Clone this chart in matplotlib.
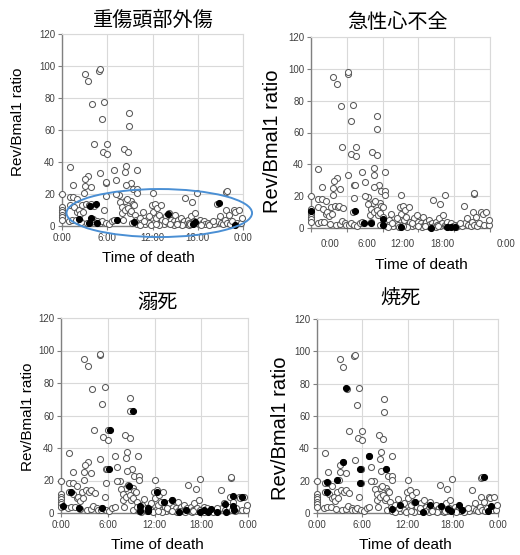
import matplotlib
matplotlib.use("Agg")
import matplotlib.pyplot as plt
from matplotlib.patches import Ellipse

plt.rcParams['font.family'] = ['Liberation Sans', 'Noto Sans CJK JP']

# panel titles
titles = ['重傷頭部外傷', '急性心不全', '溺死', '焼死']

# common background samples (open circles): hour of death, Rev/Bmal1 ratio
open_hour = [3.0, 3.5, 4.95, 5.0, 4.0, 5.6, 5.3, 8.9, 8.9, 4.2, 6.0, 5.4, 6.0, 8.2, 8.8,
             1.0, 8.5, 6.9, 9.9, 3.5, 3.1, 7.2, 8.4, 5.0, 5.8, 5.9, 9.1, 8.5, 3.0, 3.85,
             1.5, 9.4, 9.95, 2.9, 7.6, 12.0, 17.9, 21.8, 21.85, 9.95, 7.2,
             0, 0, 0, 0, 0, 0, 0,
             1.0, 1.5, 2.0, 5.8, 8.3, 9.2, 9.4, 16.3, 17.3,
             1.0, 0.9, 1.3, 1.6, 1.8, 2.0, 2.2, 2.4, 2.5, 2.7, 2.8, 3.2, 3.3, 3.6, 3.8,
             3.9, 4.1, 4.3, 4.6, 4.7, 5.1, 5.3, 5.6, 5.8, 6.2, 6.6, 6.9, 7.7, 7.9, 8.0,
             8.1, 8.4, 8.6, 8.8, 9.0, 9.2, 9.3, 9.6, 9.7, 9.8, 10.0, 10.1, 10.4, 10.5,
             10.7, 11.0, 11.3, 11.6, 11.9, 12.1, 12.2, 12.3, 12.5, 12.6, 12.8, 13.0,
             13.1, 13.3, 13.5, 13.8, 14.0, 14.2, 14.4, 14.6, 14.8, 15.0, 15.2, 15.4,
             15.6, 15.8, 16.0, 16.2, 16.5, 16.7, 16.9, 17.1, 17.3, 17.5, 17.7, 17.9,
             18.1, 18.3, 18.6, 18.8, 19.0, 19.3, 19.6, 19.9, 20.2, 20.5, 20.7, 20.9,
             21.1, 21.4, 21.6, 21.7, 21.9, 22.1, 22.3, 22.5, 22.8, 23.0, 23.2, 23.5,
             23.8, 23.9,
             10.3, 11.8, 12.9, 13.6, 14.9, 15.9, 16.8, 18.4, 19.5, 20.0, 11.5, 10.9,
             12.4, 14.3, 15.3, 17.0]
open_ratio = [95, 90.5, 97, 98, 76.5, 77.5, 67, 70.5, 62.5, 51, 51, 46.5, 45, 48, 46,
              37, 37.5, 35, 35, 31.5, 29.5, 28.6, 33.6, 33, 27, 27.3, 27, 25.7, 25.2, 24.5,
              25.5, 23, 23, 20.5, 19.6, 20.5, 20.8, 21.5, 22, 20.5, 20,
              20, 12, 10, 8.5, 7, 5.5, 4,
              18.4, 18.4, 16.7, 18.6, 15.5, 15.5, 13.8, 17.3, 15,
              13, 3, 3.5, 12, 4, 9, 10, 7.5, 2.5, 13, 9, 14, 2, 13, 14,
              2.5, 4.5, 12.5, 3, 2, 2, 3, 10, 2, 1, 3, 3.5, 15, 8, 12,
              3.5, 10, 17, 11, 8, 9.5, 2, 13, 7, 4, 1, 3, 5, 2,
              8.5, 1.5, 4, 2, 13, 9, 2, 14, 5, 11, 7, 2,
              13, 3.5, 1, 6, 2, 8, 4, 1.5, 3, 7, 2, 4,
              1, 5, 2.5, 3, 1, 4, 2, 6, 1, 3, 8, 2,
              1.5, 4, 2, 3, 1, 2, 1.5, 2, 1, 14, 3, 6,
              2, 1, 4, 10, 2, 7, 1, 3, 10, 9, 2, 10,
              2, 5,
              0.5, 0.5, 0.5, 3, 0.5, 0.5, 0.5, 0.5, 0.5, 3, 6, 3,
              1, 1, 1, 1]

# highlighted samples (filled circles) per cause of death
black_hour_1 = [2.3, 3.7, 4.5, 3.85, 3.6, 4.6, 7.3, 9.6, 14.0, 17.6, 17.4, 20.8, 23.0]
black_ratio_1 = [4.2, 12.7, 13.8, 4.8, 2.0, 1.7, 3.8, 2.7, 7.3, 2.7, 1.3, 14.2, 0.4]

black_hour_2 = [0.05, 5.9, 7.05, 8.1, 9.6, 9.6, 12.05, 16.1, 18.3, 18.8, 19.3]
black_ratio_2 = [10.5, 10.5, 3.1, 3.4, 5.4, 1.7, 0.8, 0.3, 0.5, 0.8, 0.8]

black_hour_3 = [0.3, 1.3, 2.3, 5.3, 6.1, 6.3, 9.3, 8.7, 10.2, 10.2, 11.2, 11.2, 12.3,
                13.2, 14.2, 15.1, 16.1, 17.8, 18.3, 18.9, 19.2, 20.0, 21.1, 21.2, 22.1,
                22.1, 22.2, 23.2]
black_ratio_3 = [4.1, 12.7, 3.3, 2.9, 27, 51, 62.6, 16.6, 4.1, 1.0, 2.9, 1.0, 12.9,
                 6.6, 8.0, 0.6, 1.6, 0.4, 2.0, 0.8, 2.5, 0.4, 5.7, 0.6, 10.7,
                 4.5, 2.0, 9.8]

black_hour_4 = [1.3, 1.3, 2.7, 3.4, 3.9, 5.7, 5.7, 6.9, 9.1, 9.95, 11.0, 13.0, 14.0,
                15.0, 16.4, 17.4, 17.8, 18.8, 19.2, 22.1, 22.7, 23.1]
black_ratio_4 = [19.2, 13, 20.6, 31.8, 77.3, 27.2, 18.6, 35.5, 27.4, 2.5, 5, 6.6, 0.4,
                 5, 4.1, 2.5, 1.2, 5, 1.6, 22.3, 1.0, 4.5]

black_hours = [black_hour_1, black_hour_2, black_hour_3, black_hour_4]
black_ratios = [black_ratio_1, black_ratio_2, black_ratio_3, black_ratio_4]

tick_labels = ['0:00', '6:00', '12:00', '18:00', '0:00']
# panel 2 has its labels shifted off the gridlines
shifted_label_hours = [2.5, 7.5, 12.3, 17.6, 26.2]

fig = plt.figure(figsize=(5.2, 5.55), dpi=100)
W, H = 520.0, 555.0

# (left, right, top, bottom) in pixels
boxes = [(62, 243, 34, 226), (311, 490, 37, 228), (61, 248, 318, 513), (317, 498, 319, 513)]
title_pos = [(153, 20), (397, 22), (157, 302), (400, 298)]
ylabel_pos = [(18, 122, 11), (273, 141, 14.5), (28, 417, 11), (280, 428, 14.5)]
xlabel_pos = [(148, 258), (421, 265), (157, 545), (405, 545)]

for i in range(4):
    l, r, t, b = boxes[i]
    ax = fig.add_axes([l / W, 1 - b / H, (r - l) / W, (b - t) / H])
    ax.set_xlim(0, 24)
    ax.set_ylim(0, 120)
    ax.set_yticks(range(0, 121, 20))
    if i == 1:
        ax.set_xticks([0, 4.8, 9.6, 14.4, 19.2, 24])
        ax.set_xticklabels([])
        for hx, lab in zip(shifted_label_hours, tick_labels):
            ax.text(hx, -7, lab, ha='center', va='top', fontsize=7, color='#404040',
                    clip_on=False)
    else:
        ax.set_xticks([0, 6, 12, 18, 24])
        ax.set_xticklabels(tick_labels)
    ax.grid(True, color='#d9d9d9', lw=0.8)
    ax.set_axisbelow(True)
    ax.tick_params(labelsize=7, labelcolor='#404040', color='#808080', length=3,
                   width=0.8, pad=2)
    for s in ['left', 'bottom']:
        ax.spines[s].set_color('#808080')
        ax.spines[s].set_linewidth(1)
    for s in ['top', 'right']:
        ax.spines[s].set_color('#d9d9d9')
        ax.spines[s].set_linewidth(0.8)

    ax.scatter(open_hour, open_ratio, s=19, facecolors='white', edgecolors='#5a5a5a',
               linewidths=0.75, zorder=3, clip_on=False)
    ax.scatter(black_hours[i], black_ratios[i], s=19, facecolors='black',
               edgecolors='black', linewidths=0.75, zorder=4, clip_on=False)

    if i == 0:
        ax.add_patch(Ellipse((12.9, 8.1), 24.6, 30, fill=False, edgecolor='#4a8fd4',
                             lw=1.4, zorder=5, clip_on=False))

    tx, ty = title_pos[i]
    fig.text(tx / W, 1 - ty / H, titles[i], ha='center', va='center', fontsize=14.5,
             family=['Noto Sans CJK JP'])
    yx, yy, ys = ylabel_pos[i]
    fig.text(yx / W, 1 - yy / H, 'Rev/Bmal1 ratio', rotation=90, ha='center',
             va='center', fontsize=ys)
    xx, xy = xlabel_pos[i]
    fig.text(xx / W, 1 - xy / H, 'Time of death', ha='center', va='center', fontsize=11)

fig.savefig('out.png', dpi=100, facecolor='white')
